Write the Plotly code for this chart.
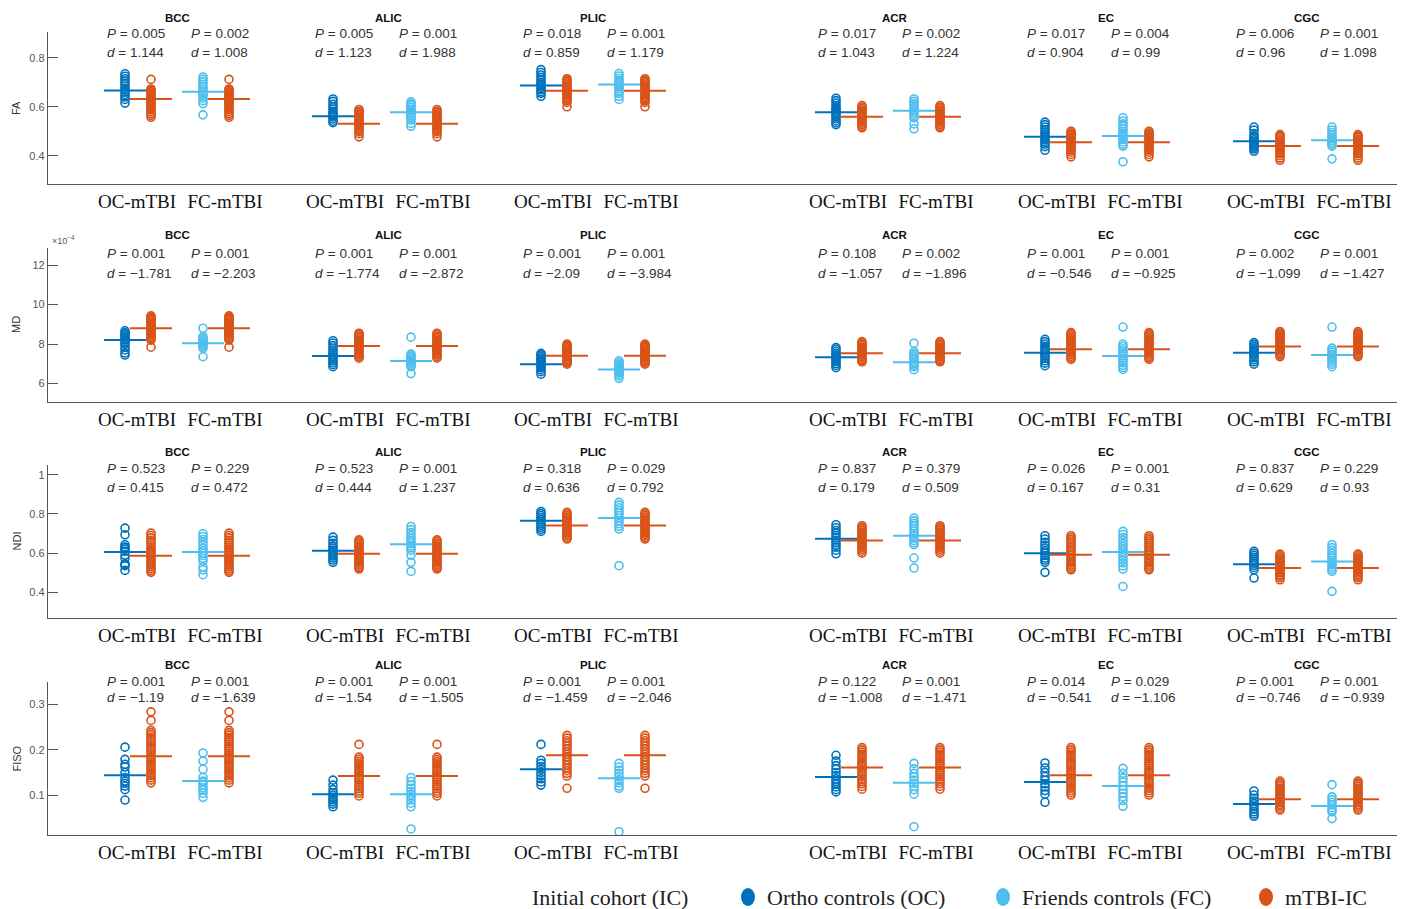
import plotly.graph_objects as go

W, H = 1406, 909

REGIONS = ["BCC", "ALIC", "PLIC", "ACR", "EC", "CGC"]
METRICS = ["FA", "MD", "NDI", "FISO"]
PAIR_LABELS = ["OC-mTBI", "FC-mTBI"]

# ---------------- data (per metric: one list per region) ----------------
FA_OC = [
    [0.735, 0.725, 0.715, 0.705, 0.695, 0.685, 0.675, 0.668, 0.66, 0.65, 0.64, 0.63, 0.615],
    [0.632, 0.622, 0.61, 0.6, 0.59, 0.58, 0.572, 0.565, 0.558, 0.55, 0.541, 0.535],
    [0.752, 0.74, 0.73, 0.72, 0.71, 0.7, 0.692, 0.685, 0.678, 0.67, 0.662, 0.655, 0.643],
    [0.635, 0.625, 0.615, 0.605, 0.597, 0.59, 0.583, 0.576, 0.569, 0.561, 0.552, 0.543, 0.535, 0.527],
    [0.537, 0.527, 0.517, 0.507, 0.497, 0.488, 0.48, 0.472, 0.464, 0.456, 0.447, 0.437, 0.422],
    [0.517, 0.505, 0.49, 0.48, 0.472, 0.465, 0.458, 0.452, 0.446, 0.44, 0.434, 0.427, 0.418],
]
FA_FC = [
    [0.722, 0.712, 0.702, 0.692, 0.682, 0.672, 0.662, 0.652, 0.645, 0.635, 0.625, 0.613, 0.567],
    [0.62, 0.612, 0.605, 0.598, 0.59, 0.583, 0.576, 0.57, 0.562, 0.555, 0.545, 0.532, 0.52],
    [0.736, 0.726, 0.716, 0.706, 0.698, 0.69, 0.682, 0.674, 0.665, 0.655, 0.643, 0.63],
    [0.632, 0.622, 0.612, 0.604, 0.596, 0.588, 0.58, 0.572, 0.564, 0.555, 0.53, 0.51],
    [0.555, 0.542, 0.53, 0.52, 0.51, 0.5, 0.49, 0.482, 0.474, 0.466, 0.456, 0.447, 0.439, 0.375],
    [0.517, 0.505, 0.495, 0.485, 0.476, 0.468, 0.46, 0.452, 0.446, 0.439, 0.387],
]
FA_TBI = [
    [0.712, 0.673, 0.668, 0.662, 0.657, 0.651, 0.646, 0.64, 0.635, 0.629, 0.624, 0.618, 0.612, 0.606, 0.6, 0.594, 0.588, 0.58, 0.572, 0.565, 0.557],
    [0.589, 0.582, 0.576, 0.57, 0.564, 0.558, 0.552, 0.546, 0.54, 0.534, 0.528, 0.522, 0.516, 0.51, 0.504, 0.498, 0.49, 0.477],
    [0.715, 0.709, 0.703, 0.697, 0.691, 0.685, 0.679, 0.673, 0.667, 0.661, 0.655, 0.649, 0.643, 0.637, 0.631, 0.625, 0.618, 0.6],
    [0.605, 0.599, 0.593, 0.587, 0.581, 0.575, 0.569, 0.563, 0.557, 0.551, 0.545, 0.539, 0.533, 0.527, 0.52, 0.514],
    [0.5, 0.494, 0.488, 0.482, 0.476, 0.47, 0.464, 0.458, 0.452, 0.446, 0.44, 0.434, 0.428, 0.422, 0.414, 0.405, 0.395],
    [0.486, 0.48, 0.474, 0.468, 0.462, 0.456, 0.45, 0.444, 0.438, 0.432, 0.426, 0.42, 0.414, 0.408, 0.4, 0.39, 0.381],
]
FA_OC_MEAN = [0.667, 0.561, 0.687, 0.578, 0.477, 0.459]
FA_FC_MEAN = [0.662, 0.578, 0.691, 0.584, 0.48, 0.463]
FA_TBI_MEAN = [0.632, 0.531, 0.666, 0.559, 0.455, 0.439]

# MD in units of 1e-4
MD_OC = [
    [8.67, 8.58, 8.5, 8.42, 8.35, 8.28, 8.2, 8.1, 8.0, 7.85, 7.7, 7.55, 7.44],
    [8.17, 8.05, 7.92, 7.8, 7.68, 7.56, 7.45, 7.35, 7.25, 7.15, 7.05, 6.95, 6.85],
    [7.53, 7.45, 7.37, 7.29, 7.21, 7.13, 7.05, 6.97, 6.89, 6.8, 6.7, 6.6, 6.47],
    [7.82, 7.72, 7.62, 7.52, 7.43, 7.35, 7.27, 7.19, 7.1, 7.0, 6.9, 6.8],
    [8.24, 8.12, 8.0, 7.88, 7.78, 7.68, 7.58, 7.48, 7.38, 7.27, 7.15, 7.03, 6.9],
    [8.07, 7.97, 7.87, 7.78, 7.69, 7.6, 7.51, 7.42, 7.32, 7.21, 7.1, 6.98],
]
MD_FC = [
    [8.8, 8.38, 8.3, 8.22, 8.14, 8.06, 8.0, 7.94, 7.87, 7.79, 7.36],
    [8.35, 7.49, 7.4, 7.32, 7.24, 7.16, 7.08, 7.0, 6.92, 6.85, 6.5],
    [7.15, 7.05, 6.97, 6.9, 6.83, 6.76, 6.69, 6.62, 6.55, 6.47, 6.38, 6.26],
    [8.04, 7.61, 7.5, 7.4, 7.3, 7.2, 7.1, 7.0, 6.92, 6.85, 6.7],
    [8.86, 8.0, 7.88, 7.76, 7.64, 7.52, 7.4, 7.28, 7.16, 7.04, 6.92, 6.81, 6.71],
    [8.86, 7.79, 7.68, 7.58, 7.48, 7.38, 7.28, 7.18, 7.08, 6.97, 6.85],
]
MD_TBI = [
    [9.43, 9.36, 9.3, 9.24, 9.18, 9.12, 9.06, 9.0, 8.94, 8.88, 8.82, 8.76, 8.7, 8.64, 8.58, 8.52, 8.46, 8.4, 8.33, 8.26, 8.2, 7.84],
    [8.55, 8.48, 8.41, 8.34, 8.27, 8.2, 8.13, 8.06, 7.99, 7.92, 7.85, 7.78, 7.71, 7.64, 7.57, 7.5, 7.43, 7.36, 7.28],
    [8.0, 7.94, 7.88, 7.82, 7.76, 7.7, 7.64, 7.58, 7.52, 7.46, 7.4, 7.34, 7.28, 7.22, 7.16, 7.1, 7.04, 6.98],
    [8.12, 8.05, 7.98, 7.91, 7.84, 7.77, 7.7, 7.63, 7.56, 7.49, 7.42, 7.35, 7.28, 7.21, 7.14, 7.1],
    [8.58, 8.5, 8.42, 8.34, 8.26, 8.18, 8.1, 8.02, 7.94, 7.86, 7.78, 7.7, 7.62, 7.54, 7.46, 7.38, 7.3, 7.22],
    [8.63, 8.56, 8.49, 8.42, 8.35, 8.28, 8.21, 8.14, 8.07, 8.0, 7.93, 7.86, 7.79, 7.72, 7.65, 7.58, 7.5, 7.43, 7.36],
]
MD_OC_MEAN = [8.21, 7.39, 6.98, 7.33, 7.56, 7.56]
MD_FC_MEAN = [8.04, 7.14, 6.71, 7.07, 7.39, 7.44]
MD_TBI_MEAN = [8.8, 7.9, 7.41, 7.53, 7.73, 7.87]

NDI_OC = [
    [0.728, 0.694, 0.643, 0.631, 0.628, 0.62, 0.609, 0.59, 0.575, 0.546, 0.54, 0.536, 0.512],
    [0.682, 0.665, 0.65, 0.635, 0.625, 0.615, 0.605, 0.595, 0.585, 0.575, 0.565, 0.553],
    [0.813, 0.802, 0.792, 0.782, 0.772, 0.762, 0.752, 0.742, 0.732, 0.722, 0.711],
    [0.745, 0.73, 0.716, 0.702, 0.69, 0.678, 0.666, 0.654, 0.642, 0.63, 0.615, 0.597],
    [0.689, 0.672, 0.655, 0.64, 0.626, 0.612, 0.6, 0.588, 0.575, 0.565, 0.553, 0.502],
    [0.609, 0.598, 0.588, 0.578, 0.568, 0.558, 0.548, 0.538, 0.527, 0.515, 0.473],
]
NDI_FC = [
    [0.699, 0.685, 0.67, 0.655, 0.64, 0.625, 0.612, 0.6, 0.588, 0.574, 0.56, 0.53, 0.515, 0.49],
    [0.736, 0.72, 0.705, 0.69, 0.675, 0.662, 0.65, 0.638, 0.626, 0.614, 0.59, 0.553, 0.507],
    [0.859, 0.845, 0.832, 0.818, 0.805, 0.792, 0.778, 0.765, 0.75, 0.737, 0.723, 0.536],
    [0.779, 0.765, 0.752, 0.738, 0.725, 0.712, 0.7, 0.688, 0.676, 0.664, 0.652, 0.643, 0.575, 0.524],
    [0.711, 0.695, 0.68, 0.665, 0.65, 0.636, 0.622, 0.608, 0.594, 0.58, 0.565, 0.55, 0.535, 0.519, 0.43],
    [0.643, 0.628, 0.614, 0.6, 0.587, 0.575, 0.563, 0.551, 0.54, 0.528, 0.517, 0.507, 0.405],
]
NDI_TBI = [
    [0.702, 0.69, 0.678, 0.666, 0.654, 0.642, 0.63, 0.62, 0.61, 0.6, 0.59, 0.58, 0.57, 0.56, 0.55, 0.54, 0.53, 0.52, 0.51, 0.502],
    [0.668, 0.66, 0.652, 0.644, 0.636, 0.628, 0.62, 0.612, 0.604, 0.596, 0.588, 0.58, 0.572, 0.564, 0.556, 0.548, 0.54, 0.532, 0.525, 0.519],
    [0.808, 0.8, 0.792, 0.784, 0.776, 0.768, 0.76, 0.752, 0.744, 0.736, 0.728, 0.72, 0.712, 0.704, 0.696, 0.688, 0.68, 0.672],
    [0.74, 0.732, 0.724, 0.716, 0.708, 0.7, 0.692, 0.684, 0.676, 0.668, 0.66, 0.652, 0.644, 0.636, 0.628, 0.62, 0.61, 0.6],
    [0.689, 0.679, 0.669, 0.659, 0.649, 0.639, 0.629, 0.619, 0.609, 0.599, 0.589, 0.579, 0.569, 0.559, 0.549, 0.539, 0.529, 0.52, 0.515],
    [0.595, 0.587, 0.579, 0.571, 0.563, 0.555, 0.547, 0.539, 0.531, 0.523, 0.515, 0.507, 0.499, 0.491, 0.483, 0.475, 0.464],
]
NDI_OC_MEAN = [0.606, 0.612, 0.765, 0.673, 0.6, 0.544]
NDI_FC_MEAN = [0.606, 0.646, 0.779, 0.689, 0.606, 0.558]
NDI_TBI_MEAN = [0.587, 0.597, 0.741, 0.665, 0.592, 0.524]

FISO_OC = [
    [0.206, 0.179, 0.168, 0.162, 0.15, 0.139, 0.131, 0.126, 0.12, 0.112, 0.089],
    [0.133, 0.122, 0.112, 0.105, 0.1, 0.095, 0.09, 0.085, 0.08, 0.074],
    [0.212, 0.177, 0.17, 0.163, 0.157, 0.15, 0.143, 0.136, 0.129, 0.122],
    [0.188, 0.175, 0.165, 0.157, 0.15, 0.143, 0.136, 0.13, 0.124, 0.118, 0.112, 0.107],
    [0.171, 0.16, 0.15, 0.141, 0.133, 0.125, 0.118, 0.11, 0.102, 0.084],
    [0.109, 0.1, 0.093, 0.087, 0.081, 0.075, 0.069, 0.063, 0.058, 0.053],
]
FISO_FC = [
    [0.193, 0.175, 0.157, 0.139, 0.131, 0.128, 0.122, 0.116, 0.111, 0.104, 0.095],
    [0.139, 0.13, 0.122, 0.115, 0.108, 0.101, 0.095, 0.089, 0.082, 0.074, 0.025],
    [0.17, 0.162, 0.155, 0.148, 0.141, 0.134, 0.127, 0.12, 0.115, 0.019],
    [0.17, 0.158, 0.148, 0.14, 0.133, 0.126, 0.119, 0.112, 0.102, 0.03],
    [0.159, 0.148, 0.138, 0.129, 0.12, 0.112, 0.104, 0.096, 0.088, 0.075],
    [0.123, 0.096, 0.09, 0.084, 0.078, 0.072, 0.067, 0.063, 0.048],
]
FISO_TBI = [
    [0.284, 0.265, 0.243, 0.238, 0.233, 0.228, 0.223, 0.218, 0.213, 0.208, 0.203, 0.198, 0.193, 0.188, 0.183, 0.178, 0.173, 0.168, 0.163, 0.158, 0.153, 0.148, 0.143, 0.138, 0.133, 0.127],
    [0.212, 0.184, 0.179, 0.174, 0.169, 0.164, 0.159, 0.154, 0.149, 0.144, 0.139, 0.134, 0.129, 0.124, 0.119, 0.114, 0.109, 0.104, 0.098],
    [0.232, 0.226, 0.22, 0.214, 0.208, 0.202, 0.196, 0.19, 0.184, 0.178, 0.172, 0.166, 0.16, 0.154, 0.148, 0.142, 0.115],
    [0.205, 0.2, 0.195, 0.19, 0.185, 0.18, 0.175, 0.17, 0.165, 0.16, 0.155, 0.15, 0.145, 0.14, 0.135, 0.13, 0.125, 0.119, 0.113],
    [0.205, 0.2, 0.195, 0.19, 0.185, 0.18, 0.175, 0.17, 0.165, 0.16, 0.155, 0.15, 0.145, 0.14, 0.135, 0.13, 0.125, 0.12, 0.115, 0.11, 0.105, 0.1],
    [0.131, 0.127, 0.123, 0.119, 0.115, 0.111, 0.107, 0.103, 0.099, 0.095, 0.091, 0.087, 0.083, 0.079, 0.075, 0.071, 0.067],
]
FISO_OC_MEAN = [0.144, 0.102, 0.157, 0.14, 0.129, 0.08]
FISO_FC_MEAN = [0.131, 0.102, 0.137, 0.127, 0.12, 0.076]
FISO_TBI_MEAN = [0.186, 0.142, 0.188, 0.161, 0.144, 0.091]

# statistics text (OC-mTBI, FC-mTBI)
FA_P = [["0.005", "0.002"], ["0.005", "0.001"], ["0.018", "0.001"], ["0.017", "0.002"], ["0.017", "0.004"], ["0.006", "0.001"]]
FA_D = [["1.144", "1.008"], ["1.123", "1.988"], ["0.859", "1.179"], ["1.043", "1.224"], ["0.904", "0.99"], ["0.96", "1.098"]]
MD_P = [["0.001", "0.001"], ["0.001", "0.001"], ["0.001", "0.001"], ["0.108", "0.002"], ["0.001", "0.001"], ["0.002", "0.001"]]
MD_D = [["−1.781", "−2.203"], ["−1.774", "−2.872"], ["−2.09", "−3.984"], ["−1.057", "−1.896"], ["−0.546", "−0.925"], ["−1.099", "−1.427"]]
NDI_P = [["0.523", "0.229"], ["0.523", "0.001"], ["0.318", "0.029"], ["0.837", "0.379"], ["0.026", "0.001"], ["0.837", "0.229"]]
NDI_D = [["0.415", "0.472"], ["0.444", "1.237"], ["0.636", "0.792"], ["0.179", "0.509"], ["0.167", "0.31"], ["0.629", "0.93"]]
FISO_P = [["0.001", "0.001"], ["0.001", "0.001"], ["0.001", "0.001"], ["0.122", "0.001"], ["0.014", "0.029"], ["0.001", "0.001"]]
FISO_D = [["−1.19", "−1.639"], ["−1.54", "−1.505"], ["−1.459", "−2.046"], ["−1.008", "−1.471"], ["−0.541", "−1.106"], ["−0.746", "−0.939"]]

Y_TICKS = [[0.4, 0.6, 0.8], [6, 8, 10, 12], [0.4, 0.6, 0.8, 1], [0.1, 0.2, 0.3]]
Y_TICKTEXT = [["0.4", "0.6", "0.8"], ["6", "8", "10", "12"], ["0.4", "0.6", "0.8", "1"], ["0.1", "0.2", "0.3"]]

LEGEND_TITLE = "Initial cohort (IC)"
LEGEND_NAMES = ["Ortho controls (OC)", "Friends controls (FC)", "mTBI-IC"]

# ---------------- layout / style constants ----------------
C_OC, C_FC, C_TBI = "#0072BD", "#4DBEEE", "#D95319"
REGION_POS = [177, 385, 593, 888, 1097, 1306]   # region centers along the shared x scale
TITLE_SHIFT = [0, 3, 0, 7, 9, 1]
COL_OC, COL_TBI1, COL_FC, COL_TBI2 = -52, -26, 26, 52
TICK_OC, TICK_FC = -40, 48
LINE_HALF = 21
X_LEFT, X_RIGHT = 48, 1397
ROW_PX = [(32, 184), (248, 402), (465, 618), (682, 835)]
Y_RANGES = [[0.284, 0.906], [5.06, 12.87], [0.269, 1.05], [0.0117, 0.35]]
TITLE_Y = [18, 235, 452, 665]
P_Y = [34, 253, 468, 681]
D_Y = [53, 273, 487, 697]

SANS = "Liberation Sans, Arial, sans-serif"
SERIF = "Liberation Serif, Times New Roman, serif"

rows = [
    (FA_OC, FA_FC, FA_TBI, FA_OC_MEAN, FA_FC_MEAN, FA_TBI_MEAN, FA_P, FA_D),
    (MD_OC, MD_FC, MD_TBI, MD_OC_MEAN, MD_FC_MEAN, MD_TBI_MEAN, MD_P, MD_D),
    (NDI_OC, NDI_FC, NDI_TBI, NDI_OC_MEAN, NDI_FC_MEAN, NDI_TBI_MEAN, NDI_P, NDI_D),
    (FISO_OC, FISO_FC, FISO_TBI, FISO_OC_MEAN, FISO_FC_MEAN, FISO_TBI_MEAN, FISO_P, FISO_D),
]


def px(x):
    return x / W


def py(y):
    return 1 - y / H


fig = go.Figure()
annotations = []
shapes = []
layout = {}


def scatter_group(groups, offset):
    xs, ys = [], []
    for c, vals in zip(REGION_POS, groups):
        xs += [c + offset] * len(vals)
        ys += list(vals)
    return xs, ys


def mean_lines(means, offset):
    xs, ys = [], []
    for c, m in zip(REGION_POS, means):
        xs += [c + offset - LINE_HALF, c + offset + LINE_HALF, None]
        ys += [m, m, None]
    return xs, ys


def note(x, y, text, font, xanchor="center", **kw):
    d = dict(x=px(x), y=py(y), xref="paper", yref="paper", text=text, showarrow=False,
             xanchor=xanchor, yanchor="middle", font=font)
    d.update(kw)
    annotations.append(d)


for r, (oc, fc, tbi, ocm, fcm, tbim, pv, dv) in enumerate(rows):
    xa = "x" if r == 0 else f"x{r + 1}"
    ya = "y" if r == 0 else f"y{r + 1}"
    point_groups = [(oc, COL_OC, C_OC), (tbi, COL_TBI1, C_TBI), (fc, COL_FC, C_FC), (tbi, COL_TBI2, C_TBI)]
    for groups, off, col in point_groups:
        xs, ys = scatter_group(groups, off)
        fig.add_trace(go.Scatter(x=xs, y=ys, xaxis=xa, yaxis=ya, mode="markers",
                                 marker=dict(symbol="circle-open", size=8, color=col, line=dict(width=1.6, color=col)),
                                 showlegend=False, hoverinfo="y"))
    line_groups = [(ocm, COL_OC, C_OC), (tbim, COL_TBI1, C_TBI), (fcm, COL_FC, C_FC), (tbim, COL_TBI2, C_TBI)]
    for means, off, col in line_groups:
        xs, ys = mean_lines(means, off)
        fig.add_trace(go.Scatter(x=xs, y=ys, xaxis=xa, yaxis=ya, mode="lines",
                                 line=dict(color=col, width=2), showlegend=False, hoverinfo="skip"))

    top, bot = ROW_PX[r]
    tickvals, ticktext = [], []
    for c in REGION_POS:
        tickvals += [c + TICK_OC, c + TICK_FC]
        ticktext += PAIR_LABELS
    xkey = "xaxis" if r == 0 else f"xaxis{r + 1}"
    ykey = "yaxis" if r == 0 else f"yaxis{r + 1}"
    layout[xkey] = dict(domain=[px(X_LEFT), px(X_RIGHT)], range=[X_LEFT, X_RIGHT], anchor=ya,
                        showline=True, linecolor="#555", linewidth=1.3, showgrid=False, zeroline=False,
                        ticks="", tickvals=tickvals, ticktext=ticktext, automargin=False,
                        tickfont=dict(family=SERIF, size=19, color="#111"), fixedrange=True)
    layout[ykey] = dict(domain=[py(bot), py(top)], range=Y_RANGES[r], anchor=xa,
                        showline=True, linecolor="#555", linewidth=1.3, showgrid=False, zeroline=False,
                        ticks="inside", ticklen=10, tickwidth=1.2, tickcolor="#555", automargin=False,
                        tickvals=Y_TICKS[r], ticktext=Y_TICKTEXT[r],
                        tickfont=dict(family=SANS, size=11, color="#555"), fixedrange=True)

    # y-axis label
    note(16, (top + bot) / 2, METRICS[r], dict(family=SANS, size=11, color="#333"), textangle=-90)
    # region titles and stats
    for i, c in enumerate(REGION_POS):
        note(c + TITLE_SHIFT[i], TITLE_Y[r], f"<b>{REGIONS[i]}</b>", dict(family=SANS, size=11.5, color="#111"))
        for k, xoff in enumerate([-72, 12]):
            note(c + xoff, P_Y[r], f"<i>P</i> = {pv[i][k]}", dict(family=SANS, size=13.5, color="#333"), xanchor="left")
            note(c + xoff, D_Y[r], f"<i>d</i> = {dv[i][k]}", dict(family=SANS, size=13.5, color="#333"), xanchor="left")

# MD exponent label
note(50, 240, "×10<sup>−4</sup>", dict(family=SANS, size=9, color="#555"), xanchor="left")

# legend (manual)
LEG_Y = 897
note(530, LEG_Y, LEGEND_TITLE, dict(family=SERIF, size=22, color="#222"), xanchor="left")
for name, col, dot_x in zip(LEGEND_NAMES, [C_OC, C_FC, C_TBI], [748, 1003, 1266]):
    shapes.append(dict(type="circle", xref="paper", yref="paper", xsizemode="pixel", ysizemode="pixel",
                       xanchor=px(dot_x), yanchor=py(LEG_Y), x0=-7, x1=7, y0=-9, y1=9,
                       fillcolor=col, line=dict(color=col, width=0)))
    note(dot_x + 17, LEG_Y, name, dict(family=SERIF, size=22, color="#222"), xanchor="left")

fig.update_layout(width=W, height=H, margin=dict(l=0, r=0, t=0, b=0, autoexpand=False),
                  paper_bgcolor="white", plot_bgcolor="white", showlegend=False,
                  annotations=annotations, shapes=shapes, **layout)

fig.write_html("out.html", config={"displayModeBar": False},
               post_script="document.body.style.margin='0px';document.body.style.overflow='hidden';")
